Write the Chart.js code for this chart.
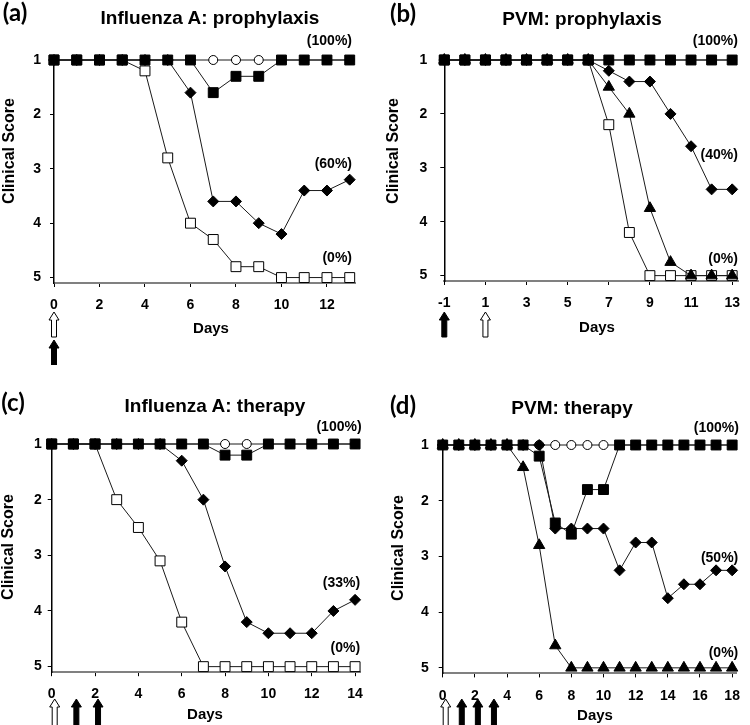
<!DOCTYPE html>
<html>
<head>
<meta charset="utf-8">
<script src="https://cdn.jsdelivr.net/npm/chart.js@4"></script>
<style>
  body { margin: 0; background: #fff; }
  #page { position: relative; width: 750px; height: 725px; overflow: hidden; font-family: "Liberation Sans", Arial, sans-serif; }
  canvas { position: absolute; }
  .t { position: absolute; transform: translate(-50%, -50%); font-weight: bold; white-space: nowrap; line-height: 1; color: #000; }
  .rot { transform: translate(-50%, -50%) rotate(-90deg); }
  .letter { font-family: Lato, "Liberation Sans", sans-serif; font-size: 24px; }
  .title { font-size: 19px; }
  .ytitle { font-size: 16px; }
  .xtitle { font-size: 15px; }
</style>
</head>
<body>
<div id="page">
  <canvas id="pa" width="375" height="365" style="left:0;top:0"></canvas>
  <canvas id="pb" width="375" height="365" style="left:375px;top:0"></canvas>
  <canvas id="pc" width="375" height="360" style="left:0;top:365px"></canvas>
  <canvas id="pd" width="375" height="360" style="left:375px;top:365px"></canvas>

  <div class="t letter" style="left:15px;top:12px">(a)</div>
  <div class="t title" style="left:210px;top:17px">Influenza A: prophylaxis</div>
  <div class="t ytitle rot" style="left:9px;top:151px">Clinical Score</div>
  <div class="t xtitle" style="left:211px;top:327px">Days</div>

  <div class="t letter" style="left:403px;top:13px">(b)</div>
  <div class="t title" style="left:582px;top:18px">PVM: prophylaxis</div>
  <div class="t ytitle rot" style="left:393px;top:151px">Clinical Score</div>
  <div class="t xtitle" style="left:597px;top:326px">Days</div>

  <div class="t letter" style="left:13px;top:402px">(c)</div>
  <div class="t title" style="left:215px;top:405px">Influenza A: therapy</div>
  <div class="t ytitle rot" style="left:8px;top:547px">Clinical Score</div>
  <div class="t xtitle" style="left:205px;top:713px">Days</div>

  <div class="t letter" style="left:403px;top:405px">(d)</div>
  <div class="t title" style="left:572px;top:407px">PVM: therapy</div>
  <div class="t ytitle rot" style="left:398px;top:548px">Clinical Score</div>
  <div class="t xtitle" style="left:595px;top:714px">Days</div>
</div>
<script>
// clinical score 1 (healthy) .. 5 (dead)

// (a) Influenza A: prophylaxis
const daysA = [0, 1, 2, 3, 4, 5, 6, 7, 8, 9, 10, 11, 12, 13];
const circlesA = [1, 1, 1, 1, 1, 1, 1, 1, 1, 1, 1, 1, 1, 1];
const squaresA = [1, 1, 1, 1, 1, 1, 1, 1.6, 1.3, 1.3, 1, 1, 1, 1];
const diamondsA = [1, 1, 1, 1, 1, 1, 1.6, 3.6, 3.6, 4.0, 4.2, 3.4, 3.4, 3.2];
const openSquaresA = [1, 1, 1, 1, 1.2, 2.8, 4.0, 4.3, 4.8, 4.8, 5, 5, 5, 5];
const xTicksA = [0, 2, 4, 6, 8, 10, 12];
const survivalA = ['(100%)', '(60%)', '(0%)'];
const openArrowsA = [0];
const filledArrowsA = [0];

// (b) PVM: prophylaxis
const daysB = [-1, 0, 1, 2, 3, 4, 5, 6, 7, 8, 9, 10, 11, 12, 13];
const circlesB = [1, 1, 1, 1, 1, 1, 1, 1, 1, 1, 1, 1, 1, 1, 1];
const squaresB = [1, 1, 1, 1, 1, 1, 1, 1, 1, 1, 1, 1, 1, 1, 1];
const diamondsB = [1, 1, 1, 1, 1, 1, 1, 1, 1.2, 1.4, 1.4, 2.0, 2.6, 3.4, 3.4];
const trianglesB = [1, 1, 1, 1, 1, 1, 1, 1, 1.5, 2.0, 3.75, 4.75, 5, 5, 5];
const openSquaresB = [1, 1, 1, 1, 1, 1, 1, 1, 2.2, 4.2, 5, 5, 5, 5, 5];
const xTicksB = [-1, 1, 3, 5, 7, 9, 11, 13];
const survivalB = ['(100%)', '(40%)', '(0%)'];
const openArrowsB = [1];
const filledArrowsB = [-1];

// (c) Influenza A: therapy
const daysC = [0, 1, 2, 3, 4, 5, 6, 7, 8, 9, 10, 11, 12, 13, 14];
const circlesC = [1, 1, 1, 1, 1, 1, 1, 1, 1, 1, 1, 1, 1, 1, 1];
const squaresC = [1, 1, 1, 1, 1, 1, 1, 1, 1.2, 1.2, 1, 1, 1, 1, 1];
const diamondsC = [1, 1, 1, 1, 1, 1, 1.3, 2.0, 3.2, 4.2, 4.4, 4.4, 4.4, 4.0, 3.8];
const openSquaresC = [1, 1, 1, 2.0, 2.5, 3.1, 4.2, 5, 5, 5, 5, 5, 5, 5, 5];
const xTicksC = [0, 2, 4, 6, 8, 10, 12, 14];
const survivalC = ['(100%)', '(33%)', '(0%)'];
const openArrowsC = [0];
const filledArrowsC = [1, 2];

// (d) PVM: therapy
const daysD = [0, 1, 2, 3, 4, 5, 6, 7, 8, 9, 10, 11, 12, 13, 14, 15, 16, 17, 18];
const circlesD = [1, 1, 1, 1, 1, 1, 1, 1, 1, 1, 1, 1, 1, 1, 1, 1, 1, 1, 1];
const squaresD = [1, 1, 1, 1, 1, 1, 1.2, 2.4, 2.6, 1.8, 1.8, 1, 1, 1, 1, 1, 1, 1, 1];
const diamondsD = [1, 1, 1, 1, 1, 1, 1, 2.5, 2.5, 2.5, 2.5, 3.25, 2.75, 2.75, 3.75, 3.5, 3.5, 3.25, 3.25];
const trianglesD = [1, 1, 1, 1, 1, 1.4, 2.8, 4.6, 5, 5, 5, 5, 5, 5, 5, 5, 5, 5, 5];
const xTicksD = [0, 2, 4, 6, 8, 10, 12, 14, 16, 18];
const survivalD = ['(100%)', '(50%)', '(0%)'];
const openArrowsD = [0];
const filledArrowsD = [1, 2, 3];

const yTicks = [1, 2, 3, 4, 5];

const markers = {
    square: { pointStyle: 'rect', pointRadius: 7, pointBackgroundColor: '#000', pointBorderColor: '#000' },
    open: { pointStyle: 'rect', pointRadius: 7, pointBackgroundColor: '#fff', pointBorderColor: '#000' },
    diamond: { pointStyle: 'rectRot', pointRadius: 5.5, pointBackgroundColor: '#000', pointBorderColor: '#000' },
    triangle: { pointStyle: 'triangle', pointRadius: 6.5, pointBackgroundColor: '#000', pointBorderColor: '#000' },
    circle: { pointStyle: 'circle', pointRadius: 4.5, pointBackgroundColor: '#fff', pointBorderColor: '#000' },
}

function drawArrow(ctx, cx, top, len, filled) {
    const headW = 10, headH = 8, shaftW = 5
    ctx.beginPath()
    ctx.moveTo(cx, top)
    ctx.lineTo(cx + headW / 2, top + headH)
    ctx.lineTo(cx + shaftW / 2, top + headH)
    ctx.lineTo(cx + shaftW / 2, top + len)
    ctx.lineTo(cx - shaftW / 2, top + len)
    ctx.lineTo(cx - shaftW / 2, top + headH)
    ctx.lineTo(cx - headW / 2, top + headH)
    ctx.closePath()
    ctx.fillStyle = filled ? '#000' : '#fff'
    ctx.fill()
    ctx.lineWidth = 1
    ctx.strokeStyle = '#000'
    ctx.stroke()
}

// survival labels and treatment arrows
const annotate = {
    id: 'annotate',
    afterDraw(chart, args, opts) {
        const { ctx, scales: { x, y } } = chart
        ctx.save()
        ctx.font = 'bold 14px "Liberation Sans"'
        ctx.fillStyle = '#000'
        ctx.textAlign = 'right'
        ctx.textBaseline = 'middle'
        opts.labels.forEach((t, i) => {
            const p = opts.labelAt[i]
            ctx.fillText(t, x.getPixelForValue(p[0]), y.getPixelForValue(p[1]))
        })
        opts.open.forEach(d => drawArrow(ctx, x.getPixelForValue(d) + opts.shift, opts.openTop, opts.len, false))
        opts.filled.forEach(d => drawArrow(ctx, x.getPixelForValue(d) + opts.shift, opts.filledTop, opts.len, true))
        ctx.restore()
    }
}

function panel(id, p) {
    const cv = document.getElementById(id)
    const W = cv.width, H = cv.height
    const font = { family: '"Liberation Sans", Arial, sans-serif', size: 14, weight: 'bold' }
    return new Chart(cv, {
        type: 'line',
        data: {
            datasets: p.series.map(s => ({
                data: p.days.map((d, i) => ({ x: d, y: s.values[i] })),
                borderColor: '#1a1a1a',
                borderWidth: 1,
                pointBorderWidth: 1,
                tension: 0,
                clip: false,
                order: s.order,
                ...markers[s.kind],
            })),
        },
        options: {
            responsive: false,
            animation: false,
            events: [],
            layout: { autoPadding: false, padding: { left: 0, top: p.area.top, right: W - p.area.right, bottom: 0 } },
            plugins: {
                legend: { display: false },
                tooltip: { enabled: false },
                annotate: p.notes,
            },
            scales: {
                x: {
                    type: 'linear',
                    min: p.xMin,
                    max: p.xMax,
                    afterFit: s => { s.height = H - p.area.bottom },
                    afterBuildTicks: s => { s.ticks = p.xTicks.map(v => ({ value: v })) },
                    grid: { drawOnChartArea: false, tickLength: 4, color: '#000' },
                    border: { color: '#808080', width: 2 },
                    ticks: { color: '#000', font, padding: 10, maxRotation: 0, autoSkip: false },
                },
                y: {
                    min: 1,
                    max: 5.1,
                    reverse: true,
                    afterFit: s => { s.width = p.area.left },
                    afterBuildTicks: s => { s.ticks = yTicks.map(v => ({ value: v })) },
                    grid: { drawOnChartArea: false, tickLength: 4, color: '#000' },
                    border: { color: '#000', width: 1.5 },
                    ticks: { color: '#000', font, padding: p.yPad },
                },
            },
        },
        plugins: [annotate],
    })
}

panel('pa', {
    days: daysA, xMin: 0, xMax: 13.25, xTicks: xTicksA, yPad: 9,
    area: { left: 54, top: 60, right: 355.4, bottom: 283 },
    series: [
        { values: circlesA, kind: 'circle', order: 3 },
        { values: diamondsA, kind: 'diamond', order: 2 },
        { values: openSquaresA, kind: 'open', order: 1 },
        { values: squaresA, kind: 'square', order: 0 },
    ],
    notes: { labels: survivalA, labelAt: [[13.1, 0.66], [13.1, 2.91], [13.1, 4.64]],
             open: openArrowsA, filled: filledArrowsA, shift: 0, openTop: 312, filledTop: 340, len: 25 },
})

panel('pb', {
    days: daysB, xMin: -1, xMax: 13.3, xTicks: xTicksB, yPad: 13,
    area: { left: 69.3, top: 60, right: 373, bottom: 281 },
    series: [
        { values: circlesB, kind: 'circle', order: 4 },
        { values: openSquaresB, kind: 'open', order: 3 },
        { values: trianglesB, kind: 'triangle', order: 2 },
        { values: diamondsB, kind: 'diamond', order: 1 },
        { values: squaresB, kind: 'square', order: 0 },
    ],
    notes: { labels: survivalB, labelAt: [[13.28, 0.65], [13.28, 2.76], [13.28, 4.69]],
             open: openArrowsB, filled: filledArrowsB, shift: 0, openTop: 312, filledTop: 312, len: 25 },
})

panel('pc', {
    days: daysC, xMin: 0, xMax: 14.25, xTicks: xTicksC, yPad: 6,
    area: { left: 51.7, top: 79, right: 360.5, bottom: 307.2 },
    series: [
        { values: circlesC, kind: 'circle', order: 3 },
        { values: openSquaresC, kind: 'open', order: 2 },
        { values: diamondsC, kind: 'diamond', order: 1 },
        { values: squaresC, kind: 'square', order: 0 },
    ],
    notes: { labels: survivalC, labelAt: [[14.3, 0.69], [14.23, 3.5], [14.23, 4.67]],
             open: openArrowsC, filled: filledArrowsC, shift: 3, openTop: 334, filledTop: 334, len: 27 },
})

panel('pd', {
    days: daysD, xMin: 0, xMax: 18.25, xTicks: xTicksD, yPad: 10,
    area: { left: 67.7, top: 80, right: 369.9, bottom: 308.4 },
    series: [
        { values: circlesD, kind: 'circle', order: 3 },
        { values: trianglesD, kind: 'triangle', order: 2 },
        { values: diamondsD, kind: 'diamond', order: 1 },
        { values: squaresD, kind: 'square', order: 0 },
    ],
    notes: { labels: survivalD, labelAt: [[18.42, 0.7], [18.38, 3.03], [18.38, 4.74]],
             open: openArrowsD, filled: filledArrowsD, shift: 3, openTop: 334, filledTop: 334, len: 27 },
})
</script>
</body>
</html>
